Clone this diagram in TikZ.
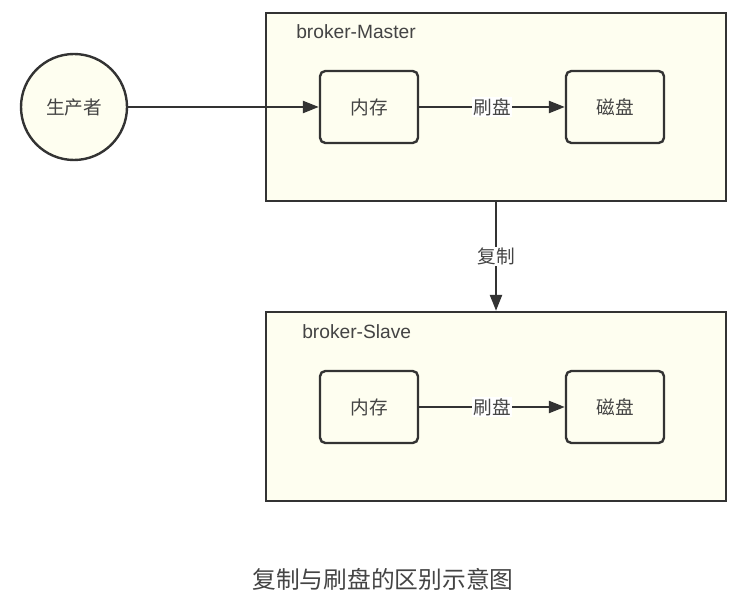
\documentclass[tikz,border=0pt]{standalone}
\usepackage{fontspec}
\setmainfont{Liberation Sans}
\newfontfamily\cjk{Noto Sans CJK SC}
\usetikzlibrary{arrows.meta}
\definecolor{fillc}{HTML}{FEFEF0}
\definecolor{linec}{HTML}{333333}
\definecolor{textc}{HTML}{444444}
\begin{document}
\begin{tikzpicture}[x=0.75pt,y=-0.75pt,
  groupbox/.style={draw=linec,fill=fillc,line width=1.8pt,minimum width=345pt,minimum height=141pt,inner sep=0pt},
  itembox/.style={draw=linec,fill=fillc,line width=1.8pt,rounded corners=4pt,minimum width=73.5pt,minimum height=54pt,inner sep=0pt,font=\cjk\fontsize{14pt}{16pt}\selectfont,text=textc},
  prodnode/.style={draw=linec,fill=fillc,line width=1.8pt,circle,minimum size=79.5pt,inner sep=0pt,font=\cjk\fontsize{14pt}{16pt}\selectfont,text=textc},
  grouplabel/.style={anchor=west,inner sep=0pt,font=\fontsize{14.4pt}{16pt}\selectfont,text=textc},
  arr/.style={draw=linec,line width=1.8pt,-{Triangle[length=12pt,width=9pt]}},
  edgelabel/.style={fill=white,inner sep=1pt,font=\cjk\fontsize{14pt}{16pt}\selectfont,text=textc}
]
\useasboundingbox (0,0) rectangle (748,605);
\node[groupbox] (master) at (496,107) {};
\node[groupbox,minimum height=141.75pt] (slave) at (496,406.5) {};
\node[grouplabel] (mlabel) at (296,32) {broker-Master};
\node[grouplabel] (slabel) at (302,332) {broker-Slave};
\node[prodnode] (prod) at (74,107) {生产者};
\node[itembox] (mem1) at (369,107) {内存};
\node[itembox] (disk1) at (615,107) {磁盘};
\node[itembox] (mem2) at (369,407) {内存};
\node[itembox] (disk2) at (615,407) {磁盘};
\draw[arr] (prod) -- (mem1);
\draw[arr] (mem1) -- node[edgelabel] (l1) {刷盘} (disk1);
\draw[arr] (mem2) -- node[edgelabel] (l2) {刷盘} (disk2);
\draw[arr] (master) -- node[edgelabel] (l3) {复制} (slave);
\node[font=\cjk\fontsize{17.8pt}{20pt}\selectfont,text=textc,inner sep=0pt] (caption) at (383,579) {复制与刷盘的区别示意图};
\end{tikzpicture}
\end{document}
